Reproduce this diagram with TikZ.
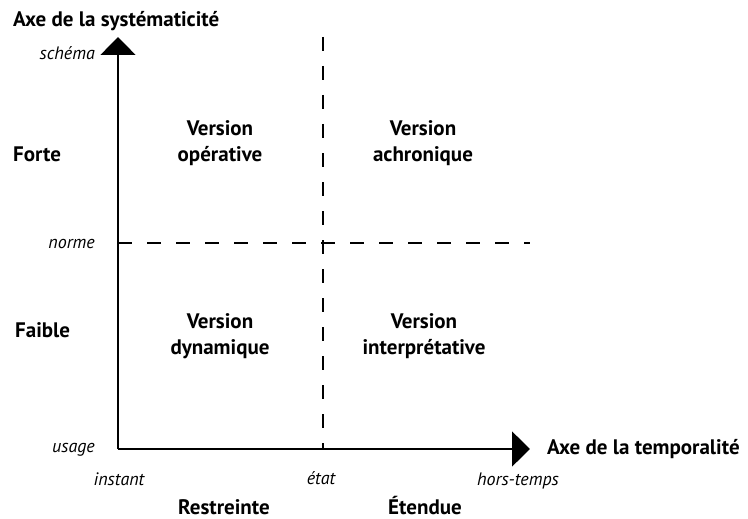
\documentclass[tikz,border=0pt]{standalone}
\usepackage{fontspec}
\setmainfont{PT Sans}
\usetikzlibrary{arrows.meta}
\begin{document}
\begin{tikzpicture}[x=1pt,y=-1pt,
  axis/.style={line width=1.5pt,-{Triangle[width=35pt,length=18pt]}},
  guide/.style={line width=1.3pt,dash pattern=on 14pt off 15pt},
  big/.style={font=\fontsize{21}{26}\selectfont\bfseries,inner sep=0pt},
  small/.style={font=\fontsize{18}{21}\selectfont\itshape,inner sep=0pt},
  quad/.style={big,align=center,anchor=base}]
\useasboundingbox (0,0) rectangle (748,519);
\coordinate (O) at (118,449);
\coordinate (ytop) at (118,37);
\coordinate (xend) at (530,449);
\coordinate (vtop) at (323,37);
\coordinate (vbot) at (323,449);
\coordinate (hl) at (118,243);
\coordinate (hr) at (530,243);
\draw[guide] (vtop) -- (vbot);
\draw[guide] (hl) -- (hr);
\draw[axis] (O) -- (ytop);
\draw[axis] (O) -- (xend);
\node[big,anchor=base west] (ay) at (13,27) {Axe de la systématicité};
\node[big,anchor=base west] (ax) at (547,454) {Axe de la temporalité};
\node[small,anchor=base east] (schema) at (95,60) {schéma};
\node[small,anchor=base east] (norme) at (95,248) {norme};
\node[small,anchor=base east] (usage) at (95,452) {usage};
\node[small,anchor=base] (instant) at (119,485) {instant};
\node[small,anchor=base] (etat) at (321,484) {état};
\node[small,anchor=base] (hors) at (518,485) {hors-temps};
\node[big,anchor=base west] (forte) at (13,161) {Forte};
\node[big,anchor=base west] (faible) at (15,337) {Faible};
\node[big,anchor=base] (restr) at (224,514) {Restreinte};
\node[big,anchor=base] (etend) at (425,514) {Étendue};
\node[quad] (q1) at (220,161) {Version\\opérative};
\node[quad] (q2) at (423,161) {Version\\achronique};
\node[quad] (q3) at (220,354) {Version\\dynamique};
\node[quad] (q4) at (424,354) {Version\\interprétative};
\end{tikzpicture}
\end{document}
